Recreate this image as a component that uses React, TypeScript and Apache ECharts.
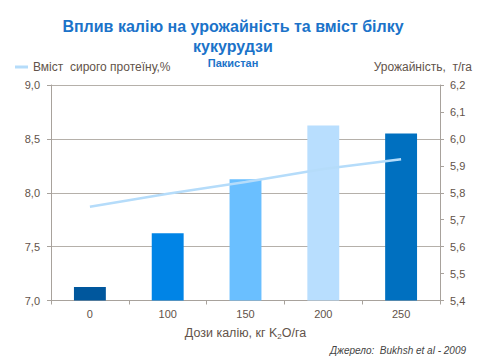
import React, { useEffect, useRef } from "react";
import * as echarts from "echarts";

const categories = ["0", "100", "150", "200", "250"];
const yieldValues = [5.45, 5.65, 5.85, 6.05, 6.02];
const proteinValues = [7.87, 7.99, 8.1, 8.22, 8.31];
const barColors = ["#00579d", "#0084e6", "#6abfff", "#b8defe", "#0070c0"];

const titleText = "Вплив калію на урожайність та вміст білку\nкукурудзи";
const subtitleText = "Пакистан";
const proteinName = "Вміст  сирого протеїну,%";
const yieldName = "Урожайність,  т/га";
const sourceText = "Джерело:  Bukhsh et al - 2009";

const labelColor = "#62534a";
const axisColor = "#a8a29c";
const fontFamily = "Arial, 'Liberation Sans', sans-serif";

const comma = (v: number) => v.toFixed(1).replace(".", ",");

export default function App() {
  const ref = useRef<HTMLDivElement>(null);
  useEffect(() => {
    document.body.style.margin = "0";
    if (!ref.current) return;
    const chart = echarts.init(ref.current, undefined, { renderer: "svg" });
    chart.setOption({
      animation: false,
      backgroundColor: "#ffffff",
      textStyle: { fontFamily },
      title: {
        text: titleText,
        subtext: subtitleText,
        left: 228,
        textAlign: "center",
        top: 11,
        padding: 5,
        itemGap: 0,
        textStyle: {
          color: "#1b73c9",
          fontSize: 16,
          fontWeight: "bold",
          lineHeight: 20,
          fontFamily,
        },
        subtextStyle: {
          color: "#1b73c9",
          fontSize: 11,
          fontWeight: "bold",
          lineHeight: 13,
          fontFamily,
        },
      },
      legend: {
        data: [{ name: proteinName, icon: "rect" }],
        left: 15,
        top: 61,
        padding: 0,
        itemWidth: 13,
        itemHeight: 3,
        textStyle: { color: labelColor, fontSize: 12, fontFamily },
      },
      grid: { left: 51, right: 40, top: 85, bottom: 59.5, containLabel: false },
      xAxis: {
        type: "category",
        data: categories,
        boundaryGap: true,
        axisLine: { lineStyle: { color: axisColor, width: 1 } },
        axisTick: { show: true, length: 4, lineStyle: { color: axisColor } },
        axisLabel: { color: labelColor, fontSize: 11, margin: 8, fontFamily },
        name: "{a|Дози калію, кг K}{s|2}{a|O/га}",
        nameLocation: "middle",
        nameGap: 24,
        nameTextStyle: {
          rich: {
            a: { color: labelColor, fontSize: 12.5, lineHeight: 16, fontFamily },
            s: { color: labelColor, fontSize: 8, lineHeight: 8, verticalAlign: "bottom", fontFamily },
          },
        },
      },
      yAxis: [
        {
          type: "value",
          min: 7,
          max: 9,
          interval: 0.5,
          position: "left",
          axisLine: { show: true, lineStyle: { color: axisColor } },
          axisTick: { show: true, length: 4, lineStyle: { color: axisColor } },
          axisLabel: { color: labelColor, fontSize: 11, margin: 11, formatter: (v: number) => comma(v), fontFamily },
          splitLine: { show: true, lineStyle: { color: "#b5b0aa", width: 1 } },
        },
        {
          type: "value",
          min: 5.4,
          max: 6.2,
          interval: 0.1,
          position: "right",
          axisLine: { show: true, lineStyle: { color: axisColor } },
          axisTick: { show: true, length: 4, lineStyle: { color: axisColor } },
          axisLabel: { color: labelColor, fontSize: 11, margin: 10, formatter: (v: number) => comma(v), fontFamily },
          splitLine: { show: false },
        },
      ],
      series: [
        {
          name: "Урожайність",
          type: "bar",
          yAxisIndex: 1,
          barWidth: "41%",
          data: yieldValues.map((v, i) => ({ value: v, itemStyle: { color: barColors[i] } })),
          z: 2,
        },
        {
          name: proteinName,
          type: "line",
          yAxisIndex: 0,
          data: proteinValues,
          showSymbol: false,
          symbol: "none",
          lineStyle: { color: "#b5dcfa", width: 2.5 },
          itemStyle: { color: "#b5dcfa" },
          z: 3,
        },
      ],
      graphic: [
        {
          type: "text",
          right: 8,
          top: 61,
          style: { text: yieldName, fill: labelColor, fontSize: 12, fontFamily },
        },
        {
          type: "text",
          right: 14,
          top: 345,
          style: { text: sourceText, fill: "#444444", fontSize: 10, fontStyle: "italic", fontFamily },
        },
      ],
    });
    return () => chart.dispose();
  }, []);
  return <div ref={ref} style={{ width: 480, height: 360 }} />;
}
